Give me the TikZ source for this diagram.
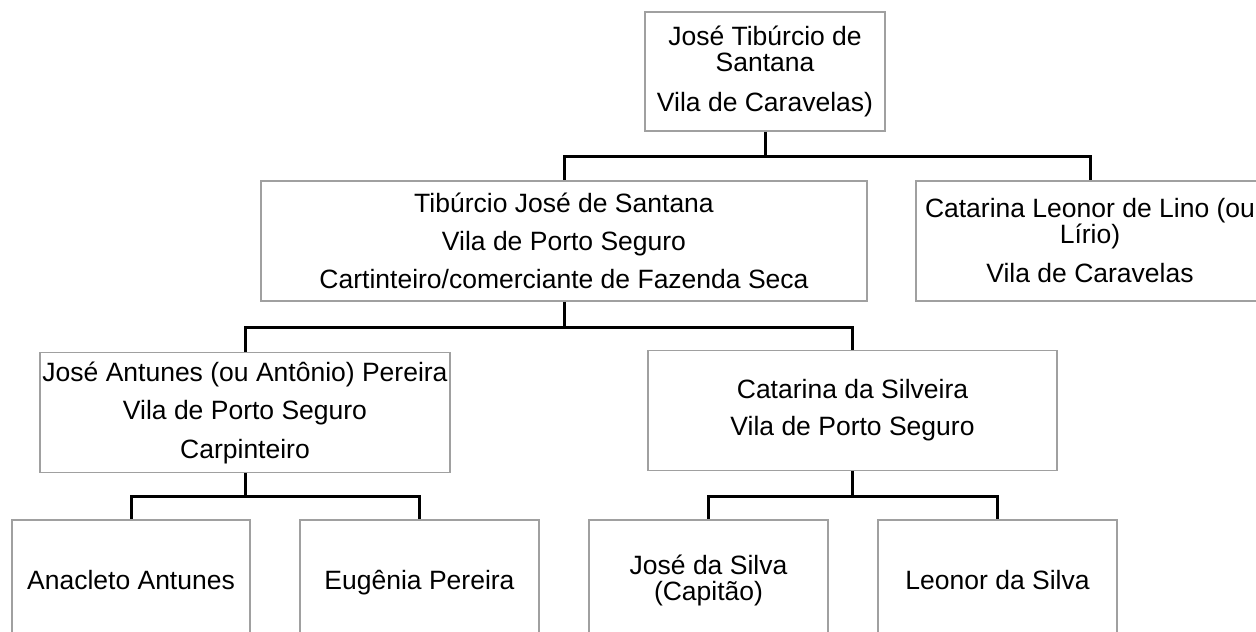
\documentclass[tikz,border=0pt]{standalone}
\usepackage{fontspec}
\setmainfont{Liberation Sans}
\usetikzlibrary{positioning}
\definecolor{borda}{RGB}{160,160,160}

\begin{document}
\begin{tikzpicture}[x=1pt,y=-1pt,
	pessoa/.style={draw=borda,line width=1.6pt,align=center,inner sep=1pt,minimum height=120pt,font=\fontsize{26.5}{26}\selectfont},
	linha/.style={text height=19pt,text depth=0pt},
	ramo/.style={line width=3pt,line join=miter}]
	\useasboundingbox (0,0) rectangle (1256,632);
	% primeira geracao
	\node[pessoa,minimum width=240pt,minimum height=119pt] (jose) at (765,71.5) {José Tibúrcio de\\Santana\\[14pt]Vila de Caravelas)};
	% segunda geracao
	\node[pessoa,minimum width=606pt] (tiburcio) at (564,241) {Tibúrcio José de Santana\\[12pt]Vila de Porto Seguro\\[12pt]Cartinteiro/comerciante de Fazenda Seca};
	\node[pessoa,minimum width=348pt] (leonor) at (1090,241) {Catarina Leonor de Lino (ou\\Lírio)\\[13pt]Vila de Caravelas};
	% terceira geracao
	\node[pessoa,minimum width=410pt] (antunes) at (245,412.5) {José Antunes (ou Antônio) Pereira\\[12.5pt]Vila de Porto Seguro\\[12.5pt]Carpinteiro};
	\node[pessoa,minimum width=409pt] (silveira) at (852.5,410.5) {Catarina da Silveira\\[11pt]Vila de Porto Seguro};
	% quarta geracao
	\node[pessoa,linha,minimum width=238pt] (anacleto) at (131,580) {Anacleto Antunes};
	\node[pessoa,linha,minimum width=239pt] (eugenia) at (419.5,580) {Eugênia Pereira};
	\node[pessoa,minimum width=239pt] (jsilva) at (708.5,580) {José da Silva\\(Capitão)};
	\node[pessoa,linha,minimum width=239pt] (lsilva) at (997.5,580) {Leonor da Silva};
	% ligacoes
	\draw[ramo] (jose.south) -- ++(0,25) -| (tiburcio.north);
	\draw[ramo] (jose.south) -- ++(0,25) -| (leonor.north);
	\draw[ramo] (tiburcio.south) -- ++(0,26) -| (antunes.north);
	\draw[ramo] (tiburcio.south) -- ++(0,26) -| (silveira.north);
	\draw[ramo] (antunes.south) -- ++(0,23) -| (anacleto.north);
	\draw[ramo] (antunes.south) -- ++(0,23) -| (eugenia.north);
	\draw[ramo] (silveira.south) -- ++(0,25) -| (jsilva.north);
	\draw[ramo] (silveira.south) -- ++(0,25) -| (lsilva.north);
\end{tikzpicture}
\end{document}
